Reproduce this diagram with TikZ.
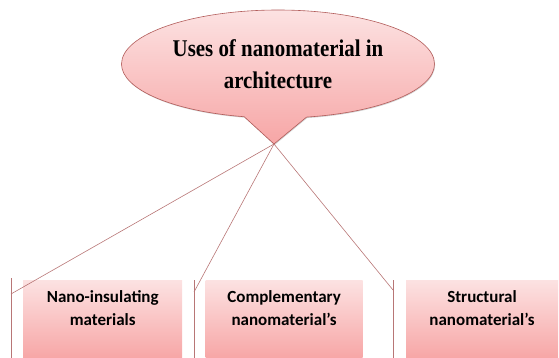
\documentclass[tikz,border=0pt]{standalone}
\usepackage{fontspec}
\usepackage{tikz}
\usetikzlibrary{positioning,shapes.callouts,shadows}
\newfontfamily\titlefont[FakeStretch=0.87]{Liberation Serif}
\newfontfamily\boxfont{Carlito}
\definecolor{rosetop}{RGB}{252,226,226}
\definecolor{rosebot}{RGB}{247,166,166}
\definecolor{roseedge}{RGB}{178,92,90}
\definecolor{roseline}{RGB}{184,118,118}

\begin{document}
\begin{tikzpicture}[x=1pt,y=-1pt,
  catbox/.style={top color=rosetop,bottom color=rosebot,draw=none,minimum height=78pt,inner sep=0pt},
  cattext/.style={align=center,inner sep=0pt,font=\boxfont\bfseries\fontsize{17}{23}\selectfont},
  link/.style={draw=roseline,line width=0.6pt}]
\useasboundingbox (0,0) rectangle (559,358);
\coordinate (tip) at (274,144);
\node[ellipse callout,callout absolute pointer={(tip)},callout pointer arc=23,
  top color=rosetop,bottom color=rosebot,draw=roseedge,line width=0.6pt,
  drop shadow={shadow xshift=0.6pt,shadow yshift=-1pt,opacity=0.35},
  minimum width=313pt,minimum height=108pt,inner sep=0pt,align=center,
  font=\titlefont\bfseries\fontsize{24}{32}\selectfont] (uses) at (278,64) {Uses of nanomaterial in\\architecture};
% category boxes
\node[catbox,minimum width=159pt,anchor=north west] (insul) at (23,280) {};
\node[catbox,minimum width=157pt,right=23pt of insul] (compl) {};
\node[catbox,minimum width=152pt,right=43pt of compl] (struct) {};
\node[cattext,below=10pt of insul.north] (insul-txt) {Nano-insulating\\materials};
\node[cattext,below=10pt of compl.north] (compl-txt) {Complementary\\nanomaterial’s};
\node[cattext,below=10pt of struct.north] (struct-txt) {Structural\\nanomaterial’s};
% brackets
\coordinate (insul-top) at (11,278);
\coordinate (insul-join) at (11,294);
\coordinate (insul-bot) at (11,358);
\coordinate (compl-top) at (194,280);
\coordinate (compl-join) at (194,292);
\coordinate (compl-bot) at (194,358);
\coordinate (struct-top) at (393,280);
\coordinate (struct-join) at (393,290);
\coordinate (struct-bot) at (393,358);
\draw[link] (insul-top) -- (insul-bot);
\draw[link] (compl-top) -- (compl-bot);
\draw[link] (struct-top) -- (struct-bot);
\draw[link] (tip) -- (insul-join);
\draw[link] (tip) -- (compl-join);
\draw[link] (tip) -- (struct-join);
\end{tikzpicture}
\end{document}
